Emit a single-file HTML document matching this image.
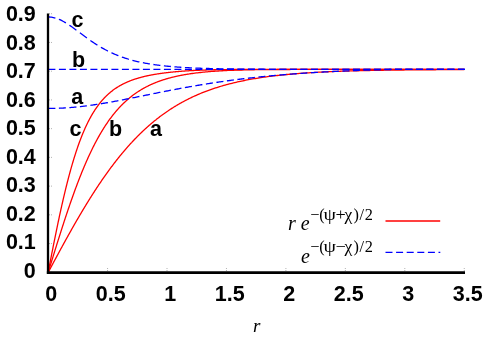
<!DOCTYPE html>
<html><head><meta charset="utf-8">
<style>
html,body{margin:0;padding:0;background:#fff;}
body{width:484px;height:338px;overflow:hidden;position:relative;font-family:"Liberation Sans",sans-serif;}
svg{position:absolute;left:0;top:0;}
.t{font-family:"Liberation Sans",sans-serif;font-weight:bold;font-size:21.5px;fill:#000;}
.s{font-family:"Liberation Serif",serif;fill:#000;}
</style></head><body>
<svg style="will-change:transform" width="484" height="338" viewBox="0 0 484 338">
<rect width="484" height="338" fill="#fff"/>
<!-- curves -->
<g fill="none" stroke="#ff0000" stroke-width="1.3">
<path d="M48.10,272.60 L48.46,271.93 L48.82,271.26 L49.17,270.59 L49.53,269.92 L49.89,269.25 L50.25,268.58 L50.60,267.91 L50.96,267.24 L51.32,266.57 L51.68,265.90 L52.03,265.23 L52.39,264.57 L52.75,263.90 L53.11,263.23 L53.46,262.56 L53.82,261.90 L54.18,261.23 L54.54,260.56 L54.89,259.90 L55.25,259.23 L55.61,258.57 L55.97,257.90 L56.32,257.24 L56.68,256.58 L57.04,255.91 L57.40,255.25 L57.76,254.59 L58.11,253.93 L58.47,253.27 L58.83,252.61 L59.19,251.95 L59.54,251.29 L59.90,250.63 L60.26,249.97 L60.62,249.31 L60.97,248.65 L61.33,248.00 L61.69,247.34 L62.05,246.69 L62.40,246.03 L62.76,245.38 L63.12,244.73 L63.48,244.07 L63.83,243.42 L64.19,242.77 L64.55,242.12 L64.91,241.47 L65.26,240.82 L65.62,240.18 L65.98,239.53 L66.34,238.88 L66.69,238.24 L67.05,237.59 L67.41,236.95 L67.77,236.31 L68.13,235.66 L68.48,235.02 L68.84,234.38 L69.20,233.74 L69.56,233.11 L69.91,232.47 L70.27,231.83 L70.63,231.20 L70.99,230.56 L71.34,229.93 L71.70,229.29 L72.06,228.66 L72.42,228.03 L72.77,227.40 L73.13,226.77 L73.49,226.14 L73.85,225.52 L74.20,224.89 L74.56,224.27 L74.92,223.64 L75.28,223.02 L75.63,222.40 L75.99,221.78 L76.35,221.16 L76.71,220.54 L77.07,219.92 L77.42,219.31 L77.78,218.69 L78.14,218.08 L78.50,217.47 L78.85,216.85 L79.21,216.24 L79.57,215.63 L79.93,215.03 L80.28,214.42 L80.64,213.81 L81.00,213.21 L81.36,212.61 L81.71,212.00 L82.07,211.40 L82.43,210.80 L82.79,210.21 L83.14,209.61 L83.50,209.01 L83.86,208.42 L84.22,207.83 L84.57,207.23 L84.93,206.64 L85.29,206.05 L85.65,205.47 L86.00,204.88 L86.36,204.29 L86.72,203.71 L87.08,203.13 L87.44,202.55 L87.79,201.97 L88.15,201.39 L88.51,200.81 L88.87,200.24 L89.22,199.66 L89.58,199.09 L89.94,198.52 L90.30,197.95 L90.65,197.38 L91.01,196.81 L91.37,196.25 L91.73,195.68 L92.08,195.12 L92.44,194.56 L92.80,194.00 L93.16,193.44 L93.51,192.88 L93.87,192.32 L94.23,191.77 L94.59,191.22 L94.94,190.67 L95.30,190.12 L95.66,189.57 L96.02,189.02 L96.38,188.48 L96.73,187.93 L97.09,187.39 L97.45,186.85 L97.81,186.31 L98.16,185.77 L98.52,185.24 L98.88,184.70 L99.24,184.17 L99.59,183.64 L99.95,183.11 L100.31,182.58 L100.67,182.05 L101.02,181.52 L101.38,181.00 L101.74,180.48 L102.10,179.96 L102.45,179.44 L102.81,178.92 L103.17,178.40 L103.53,177.89 L103.88,177.38 L104.24,176.87 L104.60,176.36 L104.96,175.85 L105.32,175.34 L105.67,174.84 L106.03,174.33 L106.39,173.83 L106.75,173.33 L107.10,172.83 L107.46,172.33 L107.82,171.84 L108.18,171.34 L108.53,170.85 L108.89,170.36 L109.25,169.87 L109.61,169.39 L109.96,168.90 L110.32,168.42 L110.68,167.93 L111.04,167.45 L111.39,166.97 L111.75,166.50 L112.11,166.02 L112.47,165.54 L112.82,165.07 L113.18,164.60 L113.54,164.13 L113.90,163.66 L114.25,163.20 L114.61,162.73 L114.97,162.27 L115.33,161.81 L115.69,161.35 L116.04,160.89 L116.40,160.43 L116.76,159.98 L117.12,159.53 L117.47,159.07 L117.83,158.62 L118.19,158.18 L118.55,157.73 L118.90,157.28 L119.26,156.84 L119.62,156.40 L119.98,155.96 L120.33,155.52 L120.69,155.08 L121.05,154.65 L121.41,154.22 L121.76,153.78 L122.12,153.35 L122.48,152.92 L122.84,152.50 L123.19,152.07 L123.55,151.65 L123.91,151.23 L124.27,150.81 L124.63,150.39 L124.98,149.97 L125.34,149.55 L125.70,149.14 L126.06,148.73 L126.41,148.32 L126.77,147.91 L127.13,147.50 L127.49,147.09 L127.84,146.69 L128.20,146.29 L128.56,145.89 L128.92,145.49 L129.27,145.09 L129.63,144.69 L129.99,144.30 L130.35,143.90 L130.70,143.51 L131.06,143.12 L131.42,142.73 L131.78,142.35 L132.13,141.96 L132.49,141.58 L132.85,141.20 L133.21,140.82 L133.56,140.44 L133.92,140.06 L134.28,139.69 L134.64,139.31 L135.00,138.94 L135.35,138.57 L135.71,138.20 L136.07,137.83 L136.43,137.47 L136.78,137.10 L137.14,136.74 L137.50,136.38 L137.86,136.02 L138.21,135.66 L138.57,135.30 L138.93,134.95 L139.29,134.59 L139.64,134.24 L140.00,133.89 L140.36,133.54 L140.72,133.19 L141.07,132.85 L141.43,132.50 L141.79,132.16 L142.15,131.82 L142.50,131.48 L142.86,131.14 L143.22,130.80 L143.58,130.47 L143.94,130.13 L144.29,129.80 L144.65,129.47 L145.01,129.14 L145.37,128.81 L145.72,128.48 L146.08,128.16 L146.44,127.84 L146.80,127.51 L147.15,127.19 L147.51,126.87 L147.87,126.56 L148.23,126.24 L148.58,125.92 L148.94,125.61 L149.30,125.30 L149.66,124.99 L150.01,124.68 L150.37,124.37 L150.73,124.07 L151.09,123.76 L151.44,123.46 L151.80,123.16 L152.16,122.86 L152.52,122.56 L152.88,122.26 L153.23,121.96 L153.59,121.67 L153.95,121.37 L154.31,121.08 L154.66,120.79 L155.02,120.50 L155.38,120.21 L155.74,119.93 L156.09,119.64 L156.45,119.36 L156.81,119.08 L157.17,118.79 L157.52,118.51 L157.88,118.24 L158.24,117.96 L158.60,117.68 L158.95,117.41 L159.31,117.14 L159.67,116.86 L160.03,116.59 L160.38,116.33 L160.74,116.06 L161.10,115.79 L161.46,115.53 L161.81,115.26 L162.17,115.00 L162.53,114.74 L162.89,114.48 L163.25,114.22 L163.60,113.96 L163.96,113.71 L164.32,113.45 L164.68,113.20 L165.03,112.95 L165.39,112.70 L165.75,112.45 L166.11,112.20 L166.46,111.95 L166.82,111.70 L167.18,111.46 L167.54,111.22 L167.89,110.97 L168.25,110.73 L168.61,110.49 L168.97,110.25 L169.32,110.02 L169.68,109.78 L170.04,109.55 L170.40,109.31 L170.75,109.08 L171.11,108.85 L171.47,108.62 L171.83,108.39 L172.19,108.16 L172.54,107.93 L172.90,107.71 L173.26,107.48 L173.62,107.26 L173.97,107.04 L174.33,106.82 L174.69,106.60 L175.05,106.38 L175.40,106.16 L175.76,105.95 L176.12,105.73 L176.48,105.52 L176.83,105.30 L177.19,105.09 L177.55,104.88 L177.91,104.67 L178.26,104.46 L178.62,104.26 L178.98,104.05 L179.34,103.84 L179.69,103.64 L180.05,103.44 L180.41,103.24 L180.77,103.03 L181.12,102.83 L181.48,102.64 L181.84,102.44 L182.20,102.24 L182.56,102.05 L182.91,101.85 L183.27,101.66 L183.63,101.47 L183.99,101.27 L184.34,101.08 L184.70,100.89 L185.06,100.71 L185.42,100.52 L185.77,100.33 L186.13,100.15 L186.49,99.96 L186.85,99.78 L187.20,99.60 L187.56,99.42 L187.92,99.23 L188.28,99.06 L188.63,98.88 L188.99,98.70 L189.35,98.52 L189.71,98.35 L190.06,98.17 L190.42,98.00 L190.78,97.83 L192.15,97.17 L193.53,96.53 L194.90,95.90 L196.28,95.29 L197.65,94.69 L199.03,94.10 L200.40,93.52 L201.77,92.96 L203.15,92.41 L204.52,91.87 L205.90,91.34 L207.27,90.83 L208.64,90.32 L210.02,89.83 L211.39,89.34 L212.77,88.87 L214.14,88.41 L215.52,87.96 L216.89,87.52 L218.26,87.08 L219.64,86.66 L221.01,86.25 L222.39,85.85 L223.76,85.45 L225.14,85.07 L226.51,84.69 L227.88,84.32 L229.26,83.96 L230.63,83.61 L232.01,83.26 L233.38,82.93 L234.76,82.60 L236.13,82.28 L237.50,81.97 L238.88,81.66 L240.25,81.36 L241.63,81.07 L243.00,80.78 L244.37,80.51 L245.75,80.23 L247.12,79.97 L248.50,79.71 L249.87,79.46 L251.25,79.21 L252.62,78.97 L253.99,78.73 L255.37,78.50 L256.74,78.28 L258.12,78.06 L259.49,77.84 L260.87,77.63 L262.24,77.43 L263.61,77.23 L264.99,77.03 L266.36,76.84 L267.74,76.66 L269.11,76.48 L270.48,76.30 L271.86,76.13 L273.23,75.96 L274.61,75.80 L275.98,75.64 L277.36,75.48 L278.73,75.33 L280.10,75.18 L281.48,75.03 L282.85,74.89 L284.23,74.75 L285.60,74.62 L286.98,74.49 L288.35,74.36 L289.72,74.23 L291.10,74.11 L292.47,73.99 L293.85,73.88 L295.22,73.76 L296.60,73.65 L297.97,73.55 L299.34,73.44 L300.72,73.34 L302.09,73.24 L303.47,73.14 L304.84,73.05 L306.21,72.95 L307.59,72.86 L308.96,72.78 L310.34,72.69 L311.71,72.61 L313.09,72.53 L314.46,72.45 L315.83,72.37 L317.21,72.29 L318.58,72.22 L319.96,72.15 L321.33,72.08 L322.71,72.01 L324.08,71.94 L325.45,71.88 L326.83,71.81 L328.20,71.75 L329.58,71.69 L330.95,71.63 L332.32,71.58 L333.70,71.52 L335.07,71.47 L336.45,71.41 L337.82,71.36 L339.20,71.31 L340.57,71.26 L341.94,71.22 L343.32,71.17 L344.69,71.13 L346.07,71.08 L347.44,71.04 L348.82,71.00 L350.19,70.96 L351.56,70.92 L352.94,70.88 L354.31,70.84 L355.69,70.80 L357.06,70.77 L358.43,70.73 L359.81,70.70 L361.18,70.67 L362.56,70.63 L363.93,70.60 L365.31,70.57 L366.68,70.54 L368.05,70.51 L369.43,70.49 L370.80,70.46 L372.18,70.43 L373.55,70.41 L374.93,70.38 L376.30,70.36 L377.67,70.33 L379.05,70.31 L380.42,70.29 L381.80,70.26 L383.17,70.24 L384.55,70.22 L385.92,70.20 L387.29,70.18 L388.67,70.16 L390.04,70.14 L391.42,70.12 L392.79,70.11 L394.16,70.09 L395.54,70.07 L396.91,70.05 L398.29,70.04 L399.66,70.02 L401.04,70.01 L402.41,69.99 L403.78,69.98 L405.16,69.96 L406.53,69.95 L407.91,69.94 L409.28,69.92 L410.66,69.91 L412.03,69.90 L413.40,69.89 L414.78,69.87 L416.15,69.86 L417.53,69.85 L418.90,69.84 L420.27,69.83 L421.65,69.82 L423.02,69.81 L424.40,69.80 L425.77,69.79 L427.15,69.78 L428.52,69.77 L429.89,69.76 L431.27,69.76 L432.64,69.75 L434.02,69.74 L435.39,69.73 L436.77,69.72 L438.14,69.72 L439.51,69.71 L440.89,69.70 L442.26,69.70 L443.64,69.69 L445.01,69.68 L446.39,69.68 L447.76,69.67 L449.13,69.67 L450.51,69.66 L451.88,69.65 L453.26,69.65 L454.63,69.64 L456.00,69.64 L457.38,69.63 L458.75,69.63 L460.13,69.62 L461.50,69.62 L462.88,69.61 L464.25,69.61"/>
<path d="M48.10,272.60 L48.46,271.44 L48.82,270.29 L49.17,269.13 L49.53,267.98 L49.89,266.82 L50.25,265.66 L50.60,264.51 L50.96,263.35 L51.32,262.20 L51.68,261.04 L52.03,259.88 L52.39,258.73 L52.75,257.57 L53.11,256.42 L53.46,255.27 L53.82,254.11 L54.18,252.96 L54.54,251.81 L54.89,250.66 L55.25,249.51 L55.61,248.37 L55.97,247.22 L56.32,246.08 L56.68,244.93 L57.04,243.79 L57.40,242.65 L57.76,241.51 L58.11,240.38 L58.47,239.24 L58.83,238.11 L59.19,236.98 L59.54,235.85 L59.90,234.72 L60.26,233.60 L60.62,232.48 L60.97,231.36 L61.33,230.24 L61.69,229.13 L62.05,228.02 L62.40,226.91 L62.76,225.80 L63.12,224.70 L63.48,223.60 L63.83,222.50 L64.19,221.40 L64.55,220.31 L64.91,219.22 L65.26,218.14 L65.62,217.06 L65.98,215.98 L66.34,214.90 L66.69,213.83 L67.05,212.76 L67.41,211.70 L67.77,210.64 L68.13,209.58 L68.48,208.53 L68.84,207.48 L69.20,206.43 L69.56,205.39 L69.91,204.35 L70.27,203.32 L70.63,202.29 L70.99,201.26 L71.34,200.24 L71.70,199.22 L72.06,198.21 L72.42,197.20 L72.77,196.20 L73.13,195.20 L73.49,194.20 L73.85,193.21 L74.20,192.22 L74.56,191.24 L74.92,190.27 L75.28,189.29 L75.63,188.33 L75.99,187.36 L76.35,186.40 L76.71,185.45 L77.07,184.50 L77.42,183.56 L77.78,182.62 L78.14,181.68 L78.50,180.75 L78.85,179.83 L79.21,178.91 L79.57,178.00 L79.93,177.09 L80.28,176.18 L80.64,175.28 L81.00,174.39 L81.36,173.50 L81.71,172.61 L82.07,171.73 L82.43,170.86 L82.79,169.99 L83.14,169.13 L83.50,168.27 L83.86,167.42 L84.22,166.57 L84.57,165.73 L84.93,164.89 L85.29,164.06 L85.65,163.23 L86.00,162.41 L86.36,161.59 L86.72,160.78 L87.08,159.97 L87.44,159.17 L87.79,158.38 L88.15,157.59 L88.51,156.80 L88.87,156.02 L89.22,155.25 L89.58,154.48 L89.94,153.71 L90.30,152.96 L90.65,152.20 L91.01,151.45 L91.37,150.71 L91.73,149.97 L92.08,149.24 L92.44,148.51 L92.80,147.79 L93.16,147.08 L93.51,146.36 L93.87,145.66 L94.23,144.96 L94.59,144.26 L94.94,143.57 L95.30,142.88 L95.66,142.20 L96.02,141.53 L96.38,140.86 L96.73,140.19 L97.09,139.53 L97.45,138.88 L97.81,138.23 L98.16,137.58 L98.52,136.94 L98.88,136.31 L99.24,135.68 L99.59,135.05 L99.95,134.43 L100.31,133.82 L100.67,133.21 L101.02,132.60 L101.38,132.00 L101.74,131.40 L102.10,130.81 L102.45,130.23 L102.81,129.65 L103.17,129.07 L103.53,128.50 L103.88,127.93 L104.24,127.37 L104.60,126.81 L104.96,126.26 L105.32,125.71 L105.67,125.17 L106.03,124.63 L106.39,124.09 L106.75,123.56 L107.10,123.04 L107.46,122.51 L107.82,122.00 L108.18,121.48 L108.53,120.98 L108.89,120.47 L109.25,119.97 L109.61,119.48 L109.96,118.99 L110.32,118.50 L110.68,118.02 L111.04,117.54 L111.39,117.07 L111.75,116.60 L112.11,116.13 L112.47,115.67 L112.82,115.22 L113.18,114.76 L113.54,114.31 L113.90,113.87 L114.25,113.43 L114.61,112.99 L114.97,112.56 L115.33,112.13 L115.69,111.70 L116.04,111.28 L116.40,110.86 L116.76,110.45 L117.12,110.04 L117.47,109.63 L117.83,109.23 L118.19,108.83 L118.55,108.43 L118.90,108.04 L119.26,107.65 L119.62,107.27 L119.98,106.89 L120.33,106.51 L120.69,106.14 L121.05,105.77 L121.41,105.40 L121.76,105.04 L122.12,104.68 L122.48,104.32 L122.84,103.97 L123.19,103.62 L123.55,103.27 L123.91,102.92 L124.27,102.58 L124.63,102.25 L124.98,101.91 L125.34,101.58 L125.70,101.25 L126.06,100.93 L126.41,100.61 L126.77,100.29 L127.13,99.97 L127.49,99.66 L127.84,99.35 L128.20,99.05 L128.56,98.74 L128.92,98.44 L129.27,98.14 L129.63,97.85 L129.99,97.56 L130.35,97.27 L130.70,96.98 L131.06,96.70 L131.42,96.41 L131.78,96.14 L132.13,95.86 L132.49,95.59 L132.85,95.32 L133.21,95.05 L133.56,94.78 L133.92,94.52 L134.28,94.26 L134.64,94.00 L135.00,93.75 L135.35,93.50 L135.71,93.25 L136.07,93.00 L136.43,92.75 L136.78,92.51 L137.14,92.27 L137.50,92.03 L137.86,91.80 L138.21,91.56 L138.57,91.33 L138.93,91.10 L139.29,90.88 L139.64,90.65 L140.00,90.43 L140.36,90.21 L140.72,89.99 L141.07,89.77 L141.43,89.56 L141.79,89.35 L142.15,89.14 L142.50,88.93 L142.86,88.73 L143.22,88.52 L143.58,88.32 L143.94,88.12 L144.29,87.93 L144.65,87.73 L145.01,87.54 L145.37,87.34 L145.72,87.16 L146.08,86.97 L146.44,86.78 L146.80,86.60 L147.15,86.41 L147.51,86.23 L147.87,86.06 L148.23,85.88 L148.58,85.70 L148.94,85.53 L149.30,85.36 L149.66,85.19 L150.01,85.02 L150.37,84.85 L150.73,84.69 L151.09,84.53 L151.44,84.36 L151.80,84.20 L152.16,84.05 L152.52,83.89 L152.88,83.73 L153.23,83.58 L153.59,83.43 L153.95,83.28 L154.31,83.13 L154.66,82.98 L155.02,82.83 L155.38,82.69 L155.74,82.55 L156.09,82.40 L156.45,82.26 L156.81,82.12 L157.17,81.99 L157.52,81.85 L157.88,81.71 L158.24,81.58 L158.60,81.45 L158.95,81.32 L159.31,81.19 L159.67,81.06 L160.03,80.93 L160.38,80.81 L160.74,80.68 L161.10,80.56 L161.46,80.44 L161.81,80.32 L162.17,80.20 L162.53,80.08 L162.89,79.96 L163.25,79.85 L163.60,79.73 L163.96,79.62 L164.32,79.51 L164.68,79.39 L165.03,79.28 L165.39,79.17 L165.75,79.07 L166.11,78.96 L166.46,78.85 L166.82,78.75 L167.18,78.65 L167.54,78.54 L167.89,78.44 L168.25,78.34 L168.61,78.24 L168.97,78.14 L169.32,78.04 L169.68,77.95 L170.04,77.85 L170.40,77.76 L170.75,77.66 L171.11,77.57 L171.47,77.48 L171.83,77.39 L172.19,77.30 L172.54,77.21 L172.90,77.12 L173.26,77.03 L173.62,76.95 L173.97,76.86 L174.33,76.78 L174.69,76.69 L175.05,76.61 L175.40,76.53 L175.76,76.45 L176.12,76.37 L176.48,76.29 L176.83,76.21 L177.19,76.13 L177.55,76.06 L177.91,75.98 L178.26,75.90 L178.62,75.83 L178.98,75.75 L179.34,75.68 L179.69,75.61 L180.05,75.54 L180.41,75.47 L180.77,75.40 L181.12,75.33 L181.48,75.26 L181.84,75.19 L182.20,75.12 L182.56,75.06 L182.91,74.99 L183.27,74.92 L183.63,74.86 L183.99,74.80 L184.34,74.73 L184.70,74.67 L185.06,74.61 L185.42,74.55 L185.77,74.49 L186.13,74.43 L186.49,74.37 L186.85,74.31 L187.20,74.25 L187.56,74.19 L187.92,74.13 L188.28,74.08 L188.63,74.02 L188.99,73.97 L189.35,73.91 L189.71,73.86 L190.06,73.80 L190.42,73.75 L190.78,73.70 L192.15,73.50 L193.53,73.31 L194.90,73.13 L196.28,72.96 L197.65,72.79 L199.03,72.63 L200.40,72.48 L201.77,72.33 L203.15,72.19 L204.52,72.06 L205.90,71.93 L207.27,71.80 L208.64,71.68 L210.02,71.57 L211.39,71.46 L212.77,71.36 L214.14,71.26 L215.52,71.16 L216.89,71.07 L218.26,70.98 L219.64,70.90 L221.01,70.82 L222.39,70.74 L223.76,70.67 L225.14,70.60 L226.51,70.54 L227.88,70.47 L229.26,70.42 L230.63,70.36 L232.01,70.30 L233.38,70.25 L234.76,70.20 L236.13,70.16 L237.50,70.11 L238.88,70.07 L240.25,70.03 L241.63,70.00 L243.00,69.96 L244.37,69.93 L245.75,69.89 L247.12,69.86 L248.50,69.84 L249.87,69.81 L251.25,69.78 L252.62,69.76 L253.99,69.74 L255.37,69.72 L256.74,69.70 L258.12,69.68 L259.49,69.66 L260.87,69.65 L262.24,69.63 L263.61,69.62 L264.99,69.60 L266.36,69.59 L267.74,69.58 L269.11,69.57 L270.48,69.56 L271.86,69.55 L273.23,69.54 L274.61,69.53 L275.98,69.53 L277.36,69.52 L278.73,69.51 L280.10,69.51 L281.48,69.50 L282.85,69.50 L284.23,69.49 L285.60,69.49 L286.98,69.48 L288.35,69.48 L289.72,69.48 L291.10,69.47 L292.47,69.47 L293.85,69.47 L295.22,69.47 L296.60,69.46 L297.97,69.46 L299.34,69.46 L300.72,69.46 L302.09,69.46 L303.47,69.46 L304.84,69.46 L306.21,69.45 L307.59,69.45 L308.96,69.45 L310.34,69.45 L311.71,69.45 L313.09,69.45 L314.46,69.45 L315.83,69.45 L317.21,69.45 L318.58,69.45 L319.96,69.45 L321.33,69.45 L322.71,69.45 L324.08,69.45 L325.45,69.45 L326.83,69.45 L328.20,69.45 L329.58,69.45 L330.95,69.45 L332.32,69.45 L333.70,69.45 L335.07,69.45 L336.45,69.45 L337.82,69.45 L339.20,69.45 L340.57,69.45 L341.94,69.45 L343.32,69.45 L344.69,69.45 L346.07,69.45 L347.44,69.45 L348.82,69.45 L350.19,69.45 L351.56,69.45 L352.94,69.45 L354.31,69.45 L355.69,69.45 L357.06,69.45 L358.43,69.45 L359.81,69.45 L361.18,69.45 L362.56,69.45 L363.93,69.45 L365.31,69.45 L366.68,69.45 L368.05,69.45 L369.43,69.45 L370.80,69.45 L372.18,69.45 L373.55,69.45 L374.93,69.45 L376.30,69.45 L377.67,69.45 L379.05,69.45 L380.42,69.45 L381.80,69.45 L383.17,69.45 L384.55,69.45 L385.92,69.45 L387.29,69.45 L388.67,69.45 L390.04,69.45 L391.42,69.45 L392.79,69.45 L394.16,69.45 L395.54,69.45 L396.91,69.45 L398.29,69.45 L399.66,69.45 L401.04,69.45 L402.41,69.45 L403.78,69.45 L405.16,69.45 L406.53,69.45 L407.91,69.45 L409.28,69.45 L410.66,69.45 L412.03,69.45 L413.40,69.45 L414.78,69.45 L416.15,69.45 L417.53,69.45 L418.90,69.45 L420.27,69.45 L421.65,69.45 L423.02,69.45 L424.40,69.45 L425.77,69.45 L427.15,69.45 L428.52,69.45 L429.89,69.45 L431.27,69.45 L432.64,69.45 L434.02,69.45 L435.39,69.45 L436.77,69.45 L438.14,69.45 L439.51,69.45 L440.89,69.45 L442.26,69.45 L443.64,69.45 L445.01,69.45 L446.39,69.45 L447.76,69.45 L449.13,69.45 L450.51,69.45 L451.88,69.45 L453.26,69.45 L454.63,69.45 L456.00,69.45 L457.38,69.45 L458.75,69.45 L460.13,69.45 L461.50,69.45 L462.88,69.45 L464.25,69.45"/>
<path d="M48.10,272.60 L48.46,270.75 L48.82,268.90 L49.17,267.06 L49.53,265.22 L49.89,263.37 L50.25,261.54 L50.60,259.70 L50.96,257.87 L51.32,256.04 L51.68,254.22 L52.03,252.40 L52.39,250.59 L52.75,248.78 L53.11,246.97 L53.46,245.17 L53.82,243.38 L54.18,241.60 L54.54,239.82 L54.89,238.04 L55.25,236.28 L55.61,234.52 L55.97,232.77 L56.32,231.03 L56.68,229.29 L57.04,227.56 L57.40,225.85 L57.76,224.14 L58.11,222.44 L58.47,220.75 L58.83,219.06 L59.19,217.39 L59.54,215.73 L59.90,214.08 L60.26,212.44 L60.62,210.81 L60.97,209.19 L61.33,207.58 L61.69,205.98 L62.05,204.39 L62.40,202.82 L62.76,201.25 L63.12,199.70 L63.48,198.16 L63.83,196.63 L64.19,195.11 L64.55,193.60 L64.91,192.11 L65.26,190.63 L65.62,189.16 L65.98,187.70 L66.34,186.26 L66.69,184.83 L67.05,183.41 L67.41,182.00 L67.77,180.61 L68.13,179.23 L68.48,177.86 L68.84,176.51 L69.20,175.16 L69.56,173.83 L69.91,172.52 L70.27,171.22 L70.63,169.93 L70.99,168.65 L71.34,167.38 L71.70,166.13 L72.06,164.89 L72.42,163.67 L72.77,162.46 L73.13,161.26 L73.49,160.07 L73.85,158.90 L74.20,157.74 L74.56,156.59 L74.92,155.45 L75.28,154.33 L75.63,153.22 L75.99,152.12 L76.35,151.04 L76.71,149.97 L77.07,148.91 L77.42,147.86 L77.78,146.83 L78.14,145.80 L78.50,144.79 L78.85,143.80 L79.21,142.81 L79.57,141.83 L79.93,140.87 L80.28,139.92 L80.64,138.98 L81.00,138.06 L81.36,137.14 L81.71,136.24 L82.07,135.34 L82.43,134.46 L82.79,133.59 L83.14,132.73 L83.50,131.88 L83.86,131.04 L84.22,130.22 L84.57,129.40 L84.93,128.60 L85.29,127.80 L85.65,127.02 L86.00,126.24 L86.36,125.48 L86.72,124.72 L87.08,123.98 L87.44,123.25 L87.79,122.52 L88.15,121.81 L88.51,121.10 L88.87,120.41 L89.22,119.72 L89.58,119.04 L89.94,118.38 L90.30,117.72 L90.65,117.07 L91.01,116.43 L91.37,115.80 L91.73,115.17 L92.08,114.56 L92.44,113.95 L92.80,113.35 L93.16,112.76 L93.51,112.18 L93.87,111.61 L94.23,111.04 L94.59,110.48 L94.94,109.93 L95.30,109.39 L95.66,108.86 L96.02,108.33 L96.38,107.81 L96.73,107.30 L97.09,106.79 L97.45,106.29 L97.81,105.80 L98.16,105.32 L98.52,104.84 L98.88,104.37 L99.24,103.90 L99.59,103.45 L99.95,102.99 L100.31,102.55 L100.67,102.11 L101.02,101.68 L101.38,101.25 L101.74,100.83 L102.10,100.42 L102.45,100.01 L102.81,99.60 L103.17,99.21 L103.53,98.82 L103.88,98.43 L104.24,98.05 L104.60,97.67 L104.96,97.30 L105.32,96.94 L105.67,96.58 L106.03,96.22 L106.39,95.87 L106.75,95.53 L107.10,95.19 L107.46,94.85 L107.82,94.52 L108.18,94.20 L108.53,93.88 L108.89,93.56 L109.25,93.25 L109.61,92.94 L109.96,92.64 L110.32,92.34 L110.68,92.04 L111.04,91.75 L111.39,91.47 L111.75,91.18 L112.11,90.90 L112.47,90.63 L112.82,90.36 L113.18,90.09 L113.54,89.83 L113.90,89.57 L114.25,89.31 L114.61,89.06 L114.97,88.81 L115.33,88.56 L115.69,88.32 L116.04,88.08 L116.40,87.85 L116.76,87.61 L117.12,87.38 L117.47,87.16 L117.83,86.93 L118.19,86.71 L118.55,86.50 L118.90,86.28 L119.26,86.07 L119.62,85.86 L119.98,85.66 L120.33,85.46 L120.69,85.26 L121.05,85.06 L121.41,84.86 L121.76,84.67 L122.12,84.48 L122.48,84.30 L122.84,84.11 L123.19,83.93 L123.55,83.75 L123.91,83.57 L124.27,83.40 L124.63,83.23 L124.98,83.06 L125.34,82.89 L125.70,82.72 L126.06,82.56 L126.41,82.40 L126.77,82.24 L127.13,82.08 L127.49,81.93 L127.84,81.78 L128.20,81.63 L128.56,81.48 L128.92,81.33 L129.27,81.18 L129.63,81.04 L129.99,80.90 L130.35,80.76 L130.70,80.62 L131.06,80.49 L131.42,80.35 L131.78,80.22 L132.13,80.09 L132.49,79.96 L132.85,79.83 L133.21,79.71 L133.56,79.58 L133.92,79.46 L134.28,79.34 L134.64,79.22 L135.00,79.10 L135.35,78.98 L135.71,78.87 L136.07,78.76 L136.43,78.64 L136.78,78.53 L137.14,78.42 L137.50,78.31 L137.86,78.21 L138.21,78.10 L138.57,78.00 L138.93,77.90 L139.29,77.79 L139.64,77.69 L140.00,77.59 L140.36,77.50 L140.72,77.40 L141.07,77.30 L141.43,77.21 L141.79,77.12 L142.15,77.02 L142.50,76.93 L142.86,76.84 L143.22,76.75 L143.58,76.66 L143.94,76.58 L144.29,76.49 L144.65,76.41 L145.01,76.32 L145.37,76.24 L145.72,76.16 L146.08,76.08 L146.44,76.00 L146.80,75.92 L147.15,75.84 L147.51,75.76 L147.87,75.69 L148.23,75.61 L148.58,75.54 L148.94,75.46 L149.30,75.39 L149.66,75.32 L150.01,75.25 L150.37,75.18 L150.73,75.11 L151.09,75.04 L151.44,74.97 L151.80,74.90 L152.16,74.84 L152.52,74.77 L152.88,74.70 L153.23,74.64 L153.59,74.58 L153.95,74.51 L154.31,74.45 L154.66,74.39 L155.02,74.33 L155.38,74.27 L155.74,74.21 L156.09,74.15 L156.45,74.09 L156.81,74.03 L157.17,73.98 L157.52,73.92 L157.88,73.87 L158.24,73.81 L158.60,73.76 L158.95,73.70 L159.31,73.65 L159.67,73.60 L160.03,73.54 L160.38,73.49 L160.74,73.44 L161.10,73.39 L161.46,73.34 L161.81,73.29 L162.17,73.24 L162.53,73.19 L162.89,73.15 L163.25,73.10 L163.60,73.05 L163.96,73.01 L164.32,72.96 L164.68,72.92 L165.03,72.87 L165.39,72.83 L165.75,72.78 L166.11,72.74 L166.46,72.70 L166.82,72.65 L167.18,72.61 L167.54,72.57 L167.89,72.53 L168.25,72.49 L168.61,72.45 L168.97,72.41 L169.32,72.37 L169.68,72.33 L170.04,72.29 L170.40,72.25 L170.75,72.21 L171.11,72.18 L171.47,72.14 L171.83,72.10 L172.19,72.07 L172.54,72.03 L172.90,72.00 L173.26,71.96 L173.62,71.93 L173.97,71.89 L174.33,71.86 L174.69,71.82 L175.05,71.79 L175.40,71.76 L175.76,71.73 L176.12,71.69 L176.48,71.66 L176.83,71.63 L177.19,71.60 L177.55,71.57 L177.91,71.54 L178.26,71.51 L178.62,71.48 L178.98,71.45 L179.34,71.42 L179.69,71.39 L180.05,71.36 L180.41,71.33 L180.77,71.31 L181.12,71.28 L181.48,71.25 L181.84,71.22 L182.20,71.20 L182.56,71.17 L182.91,71.14 L183.27,71.12 L183.63,71.09 L183.99,71.07 L184.34,71.04 L184.70,71.02 L185.06,70.99 L185.42,70.97 L185.77,70.95 L186.13,70.92 L186.49,70.90 L186.85,70.88 L187.20,70.85 L187.56,70.83 L187.92,70.81 L188.28,70.79 L188.63,70.77 L188.99,70.74 L189.35,70.72 L189.71,70.70 L190.06,70.68 L190.42,70.66 L190.78,70.64 L192.15,70.57 L193.53,70.49 L194.90,70.42 L196.28,70.36 L197.65,70.30 L199.03,70.24 L200.40,70.18 L201.77,70.13 L203.15,70.08 L204.52,70.03 L205.90,69.99 L207.27,69.95 L208.64,69.91 L210.02,69.87 L211.39,69.84 L212.77,69.80 L214.14,69.77 L215.52,69.74 L216.89,69.72 L218.26,69.69 L219.64,69.67 L221.01,69.65 L222.39,69.63 L223.76,69.61 L225.14,69.59 L226.51,69.58 L227.88,69.56 L229.26,69.55 L230.63,69.54 L232.01,69.53 L233.38,69.52 L234.76,69.51 L236.13,69.50 L237.50,69.50 L238.88,69.49 L240.25,69.49 L241.63,69.48 L243.00,69.48 L244.37,69.47 L245.75,69.47 L247.12,69.47 L248.50,69.46 L249.87,69.46 L251.25,69.46 L252.62,69.46 L253.99,69.46 L255.37,69.45 L256.74,69.45 L258.12,69.45 L259.49,69.45 L260.87,69.45 L262.24,69.45 L263.61,69.45 L264.99,69.45 L266.36,69.45 L267.74,69.45 L269.11,69.45 L270.48,69.45 L271.86,69.45 L273.23,69.45 L274.61,69.45 L275.98,69.45 L277.36,69.45 L278.73,69.45 L280.10,69.45 L281.48,69.45 L282.85,69.45 L284.23,69.45 L285.60,69.45 L286.98,69.45 L288.35,69.45 L289.72,69.45 L291.10,69.45 L292.47,69.45 L293.85,69.45 L295.22,69.45 L296.60,69.45 L297.97,69.45 L299.34,69.45 L300.72,69.45 L302.09,69.45 L303.47,69.45 L304.84,69.45 L306.21,69.45 L307.59,69.45 L308.96,69.45 L310.34,69.45 L311.71,69.45 L313.09,69.45 L314.46,69.45 L315.83,69.45 L317.21,69.45 L318.58,69.45 L319.96,69.45 L321.33,69.45 L322.71,69.45 L324.08,69.45 L325.45,69.45 L326.83,69.45 L328.20,69.45 L329.58,69.45 L330.95,69.45 L332.32,69.45 L333.70,69.45 L335.07,69.45 L336.45,69.45 L337.82,69.45 L339.20,69.45 L340.57,69.45 L341.94,69.45 L343.32,69.45 L344.69,69.45 L346.07,69.45 L347.44,69.45 L348.82,69.45 L350.19,69.45 L351.56,69.45 L352.94,69.45 L354.31,69.45 L355.69,69.45 L357.06,69.45 L358.43,69.45 L359.81,69.45 L361.18,69.45 L362.56,69.45 L363.93,69.45 L365.31,69.45 L366.68,69.45 L368.05,69.45 L369.43,69.45 L370.80,69.45 L372.18,69.45 L373.55,69.45 L374.93,69.45 L376.30,69.45 L377.67,69.45 L379.05,69.45 L380.42,69.45 L381.80,69.45 L383.17,69.45 L384.55,69.45 L385.92,69.45 L387.29,69.45 L388.67,69.45 L390.04,69.45 L391.42,69.45 L392.79,69.45 L394.16,69.45 L395.54,69.45 L396.91,69.45 L398.29,69.45 L399.66,69.45 L401.04,69.45 L402.41,69.45 L403.78,69.45 L405.16,69.45 L406.53,69.45 L407.91,69.45 L409.28,69.45 L410.66,69.45 L412.03,69.45 L413.40,69.45 L414.78,69.45 L416.15,69.45 L417.53,69.45 L418.90,69.45 L420.27,69.45 L421.65,69.45 L423.02,69.45 L424.40,69.45 L425.77,69.45 L427.15,69.45 L428.52,69.45 L429.89,69.45 L431.27,69.45 L432.64,69.45 L434.02,69.45 L435.39,69.45 L436.77,69.45 L438.14,69.45 L439.51,69.45 L440.89,69.45 L442.26,69.45 L443.64,69.45 L445.01,69.45 L446.39,69.45 L447.76,69.45 L449.13,69.45 L450.51,69.45 L451.88,69.45 L453.26,69.45 L454.63,69.45 L456.00,69.45 L457.38,69.45 L458.75,69.45 L460.13,69.45 L461.50,69.45 L462.88,69.45 L464.25,69.45"/>
<path d="M385.5,221 L440.2,221"/>
</g>
<g fill="none" stroke="#0000ff" stroke-width="1.3">
<path d="M48.40,108.45 L49.40,108.44 L50.40,108.44 L51.40,108.43 L52.40,108.41 L53.40,108.40 L54.40,108.37 L55.40,108.35 M58.90,108.23 L59.90,108.19 L60.90,108.15 L61.90,108.10 L62.90,108.05 L63.90,107.99 L64.90,107.93 L65.90,107.87 M69.40,107.62 L70.40,107.54 L71.40,107.46 L72.40,107.38 L73.40,107.29 L74.40,107.20 L75.40,107.10 L76.40,107.01 M79.90,106.64 L80.90,106.53 L81.90,106.42 L82.90,106.30 L83.90,106.18 L84.90,106.06 L85.90,105.93 L86.90,105.80 M90.40,105.33 L91.40,105.19 L92.40,105.05 L93.40,104.91 L94.40,104.76 L95.40,104.61 L96.40,104.46 L97.40,104.31 M100.90,103.75 L101.90,103.59 L102.90,103.42 L103.90,103.25 L104.90,103.09 L105.90,102.92 L106.90,102.74 L107.90,102.57 M111.40,101.95 L112.40,101.77 L113.40,101.58 L114.40,101.40 L115.40,101.22 L116.40,101.03 L117.40,100.84 L118.40,100.65 M121.90,99.98 L122.90,99.79 L123.90,99.60 L124.90,99.40 L125.90,99.21 L126.90,99.01 L127.90,98.81 L128.90,98.62 M132.40,97.92 L133.40,97.72 L134.40,97.52 L135.40,97.32 L136.40,97.12 L137.40,96.92 L138.40,96.71 L139.40,96.51 M142.90,95.80 L143.90,95.60 L144.90,95.40 L145.90,95.20 L146.90,94.99 L147.90,94.79 L148.90,94.59 L149.90,94.39 M153.40,93.68 L154.40,93.48 L155.40,93.28 L156.40,93.08 L157.40,92.88 L158.40,92.68 L159.40,92.48 L160.40,92.28 M163.90,91.59 L164.90,91.39 L165.90,91.20 L166.90,91.00 L167.90,90.81 L168.90,90.61 L169.90,90.42 L170.90,90.23 M174.40,89.56 L175.40,89.37 L176.40,89.18 L177.40,88.99 L178.40,88.81 L179.40,88.62 L180.40,88.43 L181.40,88.25 M184.90,87.61 L185.90,87.43 L186.90,87.25 L187.90,87.07 L188.90,86.90 L189.90,86.72 L190.90,86.54 L191.90,86.37 M195.40,85.76 L196.40,85.59 L197.40,85.42 L198.40,85.26 L199.40,85.09 L200.40,84.92 L201.40,84.76 L202.40,84.59 M205.90,84.03 L206.90,83.87 L207.90,83.71 L208.90,83.55 L209.90,83.39 L210.90,83.24 L211.90,83.08 L212.90,82.93 M216.40,82.40 L217.40,82.26 L218.40,82.11 L219.40,81.96 L220.40,81.82 L221.40,81.67 L222.40,81.53 L223.40,81.39 M226.90,80.90 L227.90,80.76 L228.90,80.63 L229.90,80.49 L230.90,80.36 L231.90,80.22 L232.90,80.09 L233.90,79.96 M237.40,79.51 L238.40,79.39 L239.40,79.26 L240.40,79.14 L241.40,79.01 L242.40,78.89 L243.40,78.77 L244.40,78.65 M247.90,78.24 L248.90,78.12 L249.90,78.01 L250.90,77.90 L251.90,77.78 L252.90,77.67 L253.90,77.56 L254.90,77.45 M258.40,77.08 L259.40,76.97 L260.40,76.87 L261.40,76.77 L262.40,76.66 L263.40,76.56 L264.40,76.46 L265.40,76.36 M268.90,76.02 L269.90,75.93 L270.90,75.83 L271.90,75.74 L272.90,75.65 L273.90,75.55 L274.90,75.46 L275.90,75.37 M279.40,75.07 L280.40,74.98 L281.40,74.89 L282.40,74.81 L283.40,74.73 L284.40,74.64 L285.40,74.56 L286.40,74.48 M289.90,74.20 L290.90,74.12 L291.90,74.05 L292.90,73.97 L293.90,73.90 L294.90,73.82 L295.90,73.75 L296.90,73.68 M300.40,73.43 L301.40,73.36 L302.40,73.29 L303.40,73.22 L304.40,73.15 L305.40,73.08 L306.40,73.02 L307.40,72.95 M310.90,72.73 L311.90,72.67 L312.90,72.61 L313.90,72.55 L314.90,72.48 L315.90,72.43 L316.90,72.37 L317.90,72.31 M321.40,72.11 L322.40,72.05 L323.40,72.00 L324.40,71.94 L325.40,71.89 L326.40,71.84 L327.40,71.78 L328.40,71.73 M331.90,71.56 L332.90,71.51 L333.90,71.46 L334.90,71.41 L335.90,71.36 L336.90,71.31 L337.90,71.27 L338.90,71.22 M342.40,71.07 L343.40,71.02 L344.40,70.98 L345.40,70.94 L346.40,70.89 L347.40,70.85 L348.40,70.81 L349.40,70.77 M352.90,70.63 L353.90,70.59 L354.90,70.56 L355.90,70.52 L356.90,70.48 L357.90,70.44 L358.90,70.41 L359.90,70.37 M363.40,70.25 L364.40,70.22 L365.40,70.18 L366.40,70.15 L367.40,70.12 L368.40,70.09 L369.40,70.06 L370.40,70.02 M373.90,69.92 L374.90,69.89 L375.90,69.86 L376.90,69.83 L377.90,69.80 L378.90,69.77 L379.90,69.75 L380.90,69.72 M384.40,69.63 L385.40,69.60 L386.40,69.58 L387.40,69.55 L388.40,69.53 L389.40,69.50 L390.40,69.48 L391.40,69.45 M394.90,69.45 L395.90,69.45 L396.90,69.45 L397.90,69.45 L398.90,69.45 L399.90,69.45 L400.90,69.45 L401.90,69.45 M405.40,69.45 L406.40,69.45 L407.40,69.45 L408.40,69.45 L409.40,69.45 L410.40,69.45 L411.40,69.45 L412.40,69.45 M415.90,69.45 L416.90,69.45 L417.90,69.45 L418.90,69.45 L419.90,69.45 L420.90,69.45 L421.90,69.45 L422.90,69.45 M426.40,69.45 L427.40,69.45 L428.40,69.45 L429.40,69.45 L430.40,69.45 L431.40,69.45 L432.40,69.45 L433.40,69.45 M436.90,69.45 L437.90,69.45 L438.90,69.45 L439.90,69.45 L440.90,69.45 L441.90,69.45 L442.90,69.45 L443.90,69.45 M447.40,69.45 L448.40,69.45 L449.40,69.45 L450.40,69.45 L451.40,69.45 L452.40,69.45 L453.40,69.45 L454.40,69.45 M457.90,69.45 L458.89,69.45 L459.89,69.45 L460.88,69.45 L461.87,69.45 L462.86,69.45 L463.86,69.45 L464.85,69.45"/>
<path d="M48.40,69.45 L49.40,69.45 L50.40,69.45 L51.40,69.45 L52.40,69.45 L53.40,69.45 L54.40,69.45 L55.40,69.45 M58.90,69.45 L59.90,69.45 L60.90,69.45 L61.90,69.45 L62.90,69.45 L63.90,69.45 L64.90,69.45 L65.90,69.45 M69.40,69.45 L70.40,69.45 L71.40,69.45 L72.40,69.45 L73.40,69.45 L74.40,69.45 L75.40,69.45 L76.40,69.45 M79.90,69.45 L80.90,69.45 L81.90,69.45 L82.90,69.45 L83.90,69.45 L84.90,69.45 L85.90,69.45 L86.90,69.45 M90.40,69.45 L91.40,69.45 L92.40,69.45 L93.40,69.45 L94.40,69.45 L95.40,69.45 L96.40,69.45 L97.40,69.45 M100.90,69.45 L101.90,69.45 L102.90,69.45 L103.90,69.45 L104.90,69.45 L105.90,69.45 L106.90,69.45 L107.90,69.45 M111.40,69.45 L112.40,69.45 L113.40,69.45 L114.40,69.45 L115.40,69.45 L116.40,69.45 L117.40,69.45 L118.40,69.45 M121.90,69.45 L122.90,69.45 L123.90,69.45 L124.90,69.45 L125.90,69.45 L126.90,69.45 L127.90,69.45 L128.90,69.45 M132.40,69.45 L133.40,69.45 L134.40,69.45 L135.40,69.45 L136.40,69.45 L137.40,69.45 L138.40,69.45 L139.40,69.45 M142.90,69.45 L143.90,69.45 L144.90,69.45 L145.90,69.45 L146.90,69.45 L147.90,69.45 L148.90,69.45 L149.90,69.45 M153.40,69.45 L154.40,69.45 L155.40,69.45 L156.40,69.45 L157.40,69.45 L158.40,69.45 L159.40,69.45 L160.40,69.45 M163.90,69.45 L164.90,69.45 L165.90,69.45 L166.90,69.45 L167.90,69.45 L168.90,69.45 L169.90,69.45 L170.90,69.45 M174.40,69.45 L175.40,69.45 L176.40,69.45 L177.40,69.45 L178.40,69.45 L179.40,69.45 L180.40,69.45 L181.40,69.45 M184.90,69.45 L185.90,69.45 L186.90,69.45 L187.90,69.45 L188.90,69.45 L189.90,69.45 L190.90,69.45 L191.90,69.45 M195.40,69.45 L196.40,69.45 L197.40,69.45 L198.40,69.45 L199.40,69.45 L200.40,69.45 L201.40,69.45 L202.40,69.45 M205.90,69.45 L206.90,69.45 L207.90,69.45 L208.90,69.45 L209.90,69.45 L210.90,69.45 L211.90,69.45 L212.90,69.45 M216.40,69.45 L217.40,69.45 L218.40,69.45 L219.40,69.45 L220.40,69.45 L221.40,69.45 L222.40,69.45 L223.40,69.45 M226.90,69.45 L227.90,69.45 L228.90,69.45 L229.90,69.45 L230.90,69.45 L231.90,69.45 L232.90,69.45 L233.90,69.45 M237.40,69.45 L238.40,69.45 L239.40,69.45 L240.40,69.45 L241.40,69.45 L242.40,69.45 L243.40,69.45 L244.40,69.45 M247.90,69.45 L248.90,69.45 L249.90,69.45 L250.90,69.45 L251.90,69.45 L252.90,69.45 L253.90,69.45 L254.90,69.45 M258.40,69.45 L259.40,69.45 L260.40,69.45 L261.40,69.45 L262.40,69.45 L263.40,69.45 L264.40,69.45 L265.40,69.45 M268.90,69.45 L269.90,69.45 L270.90,69.45 L271.90,69.45 L272.90,69.45 L273.90,69.45 L274.90,69.45 L275.90,69.45 M279.40,69.45 L280.40,69.45 L281.40,69.45 L282.40,69.45 L283.40,69.45 L284.40,69.45 L285.40,69.45 L286.40,69.45 M289.90,69.45 L290.90,69.45 L291.90,69.45 L292.90,69.45 L293.90,69.45 L294.90,69.45 L295.90,69.45 L296.90,69.45 M300.40,69.45 L301.40,69.45 L302.40,69.45 L303.40,69.45 L304.40,69.45 L305.40,69.45 L306.40,69.45 L307.40,69.45 M310.90,69.45 L311.90,69.45 L312.90,69.45 L313.90,69.45 L314.90,69.45 L315.90,69.45 L316.90,69.45 L317.90,69.45 M321.40,69.45 L322.40,69.45 L323.40,69.45 L324.40,69.45 L325.40,69.45 L326.40,69.45 L327.40,69.45 L328.40,69.45 M331.90,69.45 L332.90,69.45 L333.90,69.45 L334.90,69.45 L335.90,69.45 L336.90,69.45 L337.90,69.45 L338.90,69.45 M342.40,69.45 L343.40,69.45 L344.40,69.45 L345.40,69.45 L346.40,69.45 L347.40,69.45 L348.40,69.45 L349.40,69.45 M352.90,69.45 L353.90,69.45 L354.90,69.45 L355.90,69.45 L356.90,69.45 L357.90,69.45 L358.90,69.45 L359.90,69.45 M363.40,69.45 L364.40,69.45 L365.40,69.45 L366.40,69.45 L367.40,69.45 L368.40,69.45 L369.40,69.45 L370.40,69.45 M373.90,69.45 L374.90,69.45 L375.90,69.45 L376.90,69.45 L377.90,69.45 L378.90,69.45 L379.90,69.45 L380.90,69.45 M384.40,69.45 L385.40,69.45 L386.40,69.45 L387.40,69.45 L388.40,69.45 L389.40,69.45 L390.40,69.45 L391.40,69.45 M394.90,69.45 L395.90,69.45 L396.90,69.45 L397.90,69.45 L398.90,69.45 L399.90,69.45 L400.90,69.45 L401.90,69.45 M405.40,69.45 L406.40,69.45 L407.40,69.45 L408.40,69.45 L409.40,69.45 L410.40,69.45 L411.40,69.45 L412.40,69.45 M415.90,69.45 L416.90,69.45 L417.90,69.45 L418.90,69.45 L419.90,69.45 L420.90,69.45 L421.90,69.45 L422.90,69.45 M426.40,69.45 L427.40,69.45 L428.40,69.45 L429.40,69.45 L430.40,69.45 L431.40,69.45 L432.40,69.45 L433.40,69.45 M436.90,69.45 L437.90,69.45 L438.90,69.45 L439.90,69.45 L440.90,69.45 L441.90,69.45 L442.90,69.45 L443.90,69.45 M447.40,69.45 L448.40,69.45 L449.40,69.45 L450.40,69.45 L451.40,69.45 L452.40,69.45 L453.40,69.45 L454.40,69.45 M457.90,69.45 L458.89,69.45 L459.89,69.45 L460.88,69.45 L461.87,69.45 L462.86,69.45 L463.86,69.45 L464.85,69.45"/>
<path d="M48.40,16.94 L49.40,16.98 L50.40,17.05 L51.40,17.17 L52.40,17.32 L53.40,17.52 L54.40,17.76 L55.40,18.03 M58.90,19.28 L59.90,19.71 L60.90,20.18 L61.90,20.68 L62.90,21.20 L63.90,21.75 L64.90,22.33 L65.90,22.93 M69.40,25.18 L70.40,25.87 L71.40,26.56 L72.40,27.27 L73.40,27.99 L74.40,28.72 L75.40,29.45 L76.40,30.20 M79.90,32.81 L80.90,33.56 L81.90,34.31 L82.90,35.06 L83.90,35.80 L84.90,36.54 L85.90,37.27 L86.90,38.00 M90.40,40.49 L91.40,41.18 L92.40,41.86 L93.40,42.53 L94.40,43.20 L95.40,43.85 L96.40,44.49 L97.40,45.12 M100.90,47.24 L101.90,47.82 L102.90,48.39 L103.90,48.94 L104.90,49.49 L105.90,50.02 L106.90,50.54 L107.90,51.05 M111.40,52.74 L112.40,53.20 L113.40,53.65 L114.40,54.08 L115.40,54.51 L116.40,54.92 L117.40,55.33 L118.40,55.72 M121.90,57.03 L122.90,57.38 L123.90,57.72 L124.90,58.05 L125.90,58.38 L126.90,58.69 L127.90,59.00 L128.90,59.30 M132.40,60.28 L133.40,60.54 L134.40,60.80 L135.40,61.05 L136.40,61.29 L137.40,61.53 L138.40,61.76 L139.40,61.98 M142.90,62.71 L143.90,62.91 L144.90,63.10 L145.90,63.28 L146.90,63.46 L147.90,63.64 L148.90,63.81 L149.90,63.97 M153.40,64.51 L154.40,64.66 L155.40,64.80 L156.40,64.94 L157.40,65.07 L158.40,65.20 L159.40,65.32 L160.40,65.44 M163.90,65.84 L164.90,65.95 L165.90,66.05 L166.90,66.15 L167.90,66.25 L168.90,66.34 L169.90,66.44 L170.90,66.52 M174.40,66.82 L175.40,66.89 L176.40,66.97 L177.40,67.04 L178.40,67.11 L179.40,67.18 L180.40,67.25 L181.40,67.32 M184.90,67.53 L185.90,67.59 L186.90,67.64 L187.90,67.70 L188.90,67.75 L189.90,67.80 L190.90,67.85 L191.90,67.90 M195.40,68.05 L196.40,68.09 L197.40,68.13 L198.40,68.17 L199.40,68.21 L200.40,68.25 L201.40,68.28 L202.40,68.32 M205.90,68.43 L206.90,68.46 L207.90,68.49 L208.90,68.52 L209.90,68.55 L210.90,68.58 L211.90,68.60 L212.90,68.63 M216.40,68.71 L217.40,68.73 L218.40,68.75 L219.40,68.78 L220.40,68.80 L221.40,68.82 L222.40,68.83 L223.40,68.85 M226.90,68.91 L227.90,68.93 L228.90,68.95 L229.90,68.96 L230.90,68.98 L231.90,68.99 L232.90,69.00 L233.90,69.02 M237.40,69.06 L238.40,69.07 L239.40,69.08 L240.40,69.09 L241.40,69.11 L242.40,69.12 L243.40,69.13 L244.40,69.14 M247.90,69.17 L248.90,69.18 L249.90,69.18 L250.90,69.19 L251.90,69.20 L252.90,69.21 L253.90,69.22 L254.90,69.22 M258.40,69.25 L259.40,69.25 L260.40,69.26 L261.40,69.26 L262.40,69.27 L263.40,69.27 L264.40,69.28 L265.40,69.28 M268.90,69.30 L269.90,69.31 L270.90,69.31 L271.90,69.31 L272.90,69.32 L273.90,69.32 L274.90,69.33 L275.90,69.33 M279.40,69.34 L280.40,69.35 L281.40,69.35 L282.40,69.35 L283.40,69.35 L284.40,69.36 L285.40,69.36 L286.40,69.36 M289.90,69.37 L290.90,69.37 L291.90,69.38 L292.90,69.38 L293.90,69.38 L294.90,69.38 L295.90,69.38 L296.90,69.39 M300.40,69.39 L301.40,69.39 L302.40,69.40 L303.40,69.40 L304.40,69.40 L305.40,69.40 L306.40,69.40 L307.40,69.40 M310.90,69.41 L311.90,69.41 L312.90,69.41 L313.90,69.41 L314.90,69.41 L315.90,69.41 L316.90,69.42 L317.90,69.42 M321.40,69.42 L322.40,69.42 L323.40,69.42 L324.40,69.42 L325.40,69.42 L326.40,69.42 L327.40,69.42 L328.40,69.43 M331.90,69.43 L332.90,69.43 L333.90,69.43 L334.90,69.43 L335.90,69.43 L336.90,69.43 L337.90,69.43 L338.90,69.43 M342.40,69.43 L343.40,69.43 L344.40,69.43 L345.40,69.43 L346.40,69.43 L347.40,69.44 L348.40,69.44 L349.40,69.44 M352.90,69.44 L353.90,69.44 L354.90,69.44 L355.90,69.44 L356.90,69.44 L357.90,69.44 L358.90,69.44 L359.90,69.44 M363.40,69.44 L364.40,69.44 L365.40,69.44 L366.40,69.44 L367.40,69.44 L368.40,69.44 L369.40,69.44 L370.40,69.44 M373.90,69.44 L374.90,69.44 L375.90,69.44 L376.90,69.44 L377.90,69.44 L378.90,69.44 L379.90,69.44 L380.90,69.44 M384.40,69.44 L385.40,69.44 L386.40,69.44 L387.40,69.44 L388.40,69.44 L389.40,69.44 L390.40,69.44 L391.40,69.44 M394.90,69.44 L395.90,69.44 L396.90,69.44 L397.90,69.45 L398.90,69.45 L399.90,69.45 L400.90,69.45 L401.90,69.45 M405.40,69.45 L406.40,69.45 L407.40,69.45 L408.40,69.45 L409.40,69.45 L410.40,69.45 L411.40,69.45 L412.40,69.45 M415.90,69.45 L416.90,69.45 L417.90,69.45 L418.90,69.45 L419.90,69.45 L420.90,69.45 L421.90,69.45 L422.90,69.45 M426.40,69.45 L427.40,69.45 L428.40,69.45 L429.40,69.45 L430.40,69.45 L431.40,69.45 L432.40,69.45 L433.40,69.45 M436.90,69.45 L437.90,69.45 L438.90,69.45 L439.90,69.45 L440.90,69.45 L441.90,69.45 L442.90,69.45 L443.90,69.45 M447.40,69.45 L448.40,69.45 L449.40,69.45 L450.40,69.45 L451.40,69.45 L452.40,69.45 L453.40,69.45 L454.40,69.45 M457.90,69.45 L458.89,69.45 L459.89,69.45 L460.88,69.45 L461.87,69.45 L462.86,69.45 L463.86,69.45 L464.85,69.45"/>
<path d="M385.5,252.4 L440.3,252.4" stroke-dasharray="7,3.6"/>
</g>
<path d="M48.10,271 L48.10,267.6 M107.55,271 L107.55,267.6 M167.00,271 L167.00,267.6 M226.45,271 L226.45,267.6 M285.90,271 L285.90,267.6 M345.35,271 L345.35,267.6 M404.80,271 L404.80,267.6 M464.25,271 L464.25,267.6 M49,272.30 L53,272.30 M49,243.57 L53,243.57 M49,214.84 L53,214.84 M49,186.11 L53,186.11 M49,157.38 L53,157.38 M49,128.65 L53,128.65 M49,99.92 L53,99.92 M49,71.19 L53,71.19 M49,42.46 L53,42.46 M49,13.73 L53,13.73" fill="none" stroke="#777" stroke-width="0.7" stroke-dasharray="1,1" opacity="0.8"/>
<!-- axes -->
<path d="M48,13.6 L48,273.8" fill="none" stroke="#000" stroke-width="2.3"/>
<path d="M46.85,272.6 L465,272.6" fill="none" stroke="#000" stroke-width="2.6"/>
<!-- y labels -->
<g class="t" text-anchor="end">
<text x="35.8" y="21.3">0.9</text>
<text x="35.8" y="49.8">0.8</text>
<text x="35.8" y="78.3">0.7</text>
<text x="35.8" y="106.8">0.6</text>
<text x="35.8" y="135.3">0.5</text>
<text x="35.8" y="163.8">0.4</text>
<text x="35.8" y="192.3">0.3</text>
<text x="35.8" y="220.8">0.2</text>
<text x="35.8" y="249.3">0.1</text>
<text x="35.8" y="277.8">0</text>
</g>
<g class="t" text-anchor="middle">
<text x="51.2" y="300.5">0</text>
<text x="110.7" y="300.5">0.5</text>
<text x="170.2" y="300.5">1</text>
<text x="229.7" y="300.5">1.5</text>
<text x="289.2" y="300.5">2</text>
<text x="348.7" y="300.5">2.5</text>
<text x="408.2" y="300.5">3</text>
<text x="467.7" y="300.5">3.5</text>
</g>
<g class="t">
<text x="71.5" y="27">c</text>
<text x="72" y="66.5">b</text>
<text x="71.3" y="104.3">a</text>
<text x="69.5" y="135.8">c</text>
<text x="109" y="135.8">b</text>
<text x="150" y="135.8">a</text>
</g>
<text class="s" x="256.7" y="332.3" font-size="19" font-style="italic" text-anchor="middle">r</text>
<text class="s" x="288" y="230" font-size="20" font-style="italic">r e</text>
<text class="s" font-size="16.3" transform="translate(310.2,220) scale(1.0,1)">−</text>
<text class="s" font-size="16.3" transform="translate(319.2,220) scale(1.0,1)">(</text>
<text class="s" font-size="16.3" transform="translate(323.6,220) scale(1.22,1)">ψ</text>
<text class="s" font-size="16.3" transform="translate(335.6,220) scale(1.12,1)">+</text>
<text class="s" font-size="16.3" transform="translate(344.4,220) scale(1.08,1)">χ</text>
<text class="s" font-size="16.3" transform="translate(353.4,220) scale(1.0,1)">)</text>
<text class="s" font-size="16.3" transform="translate(359.5,220) scale(1.0,1)">/</text>
<text class="s" font-size="16.3" transform="translate(364.7,220) scale(1.0,1)">2</text>
<text class="s" x="301" y="263" font-size="20" font-style="italic">e</text>
<text class="s" font-size="16.3" transform="translate(310.2,252) scale(1.0,1)">−</text>
<text class="s" font-size="16.3" transform="translate(319.2,252) scale(1.0,1)">(</text>
<text class="s" font-size="16.3" transform="translate(323.6,252) scale(1.22,1)">ψ</text>
<text class="s" font-size="16.3" transform="translate(335.6,252) scale(1.12,1)">−</text>
<text class="s" font-size="16.3" transform="translate(344.4,252) scale(1.08,1)">χ</text>
<text class="s" font-size="16.3" transform="translate(353.4,252) scale(1.0,1)">)</text>
<text class="s" font-size="16.3" transform="translate(359.5,252) scale(1.0,1)">/</text>
<text class="s" font-size="16.3" transform="translate(364.7,252) scale(1.0,1)">2</text>
</svg>
</body></html>
